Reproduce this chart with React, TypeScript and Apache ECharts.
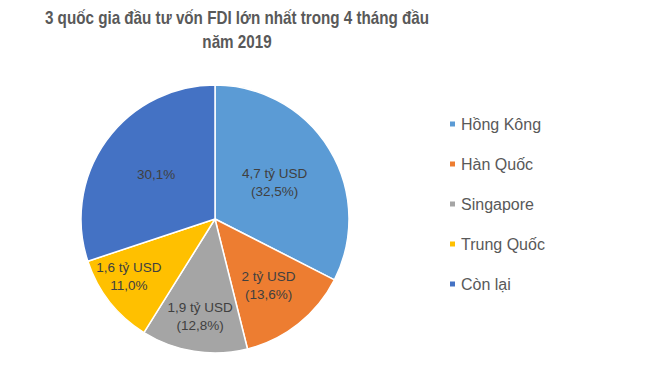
import React, { useEffect, useRef } from "react";
import * as echarts from "echarts";

const titleLines = ["3 quốc gia đầu tư vốn FDI lớn nhất trong 4 tháng đầu", "năm 2019"];
const categories = ["Hồng Kông", "Hàn Quốc", "Singapore", "Trung Quốc", "Còn lại"];
const shares = [32.5, 13.6, 12.8, 11.0, 30.1];
const sliceLabels = [
  "4,7 tỷ USD\n(32,5%)",
  "2 tỷ USD\n(13,6%)",
  "1,9 tỷ USD\n(12,8%)",
  "1,6 tỷ USD\n11,0%",
  "30,1%",
];
const colors = ["#5B9BD5", "#ED7D31", "#A5A5A5", "#FFC000", "#4472C4"];
const labelShift = [
  [0, 0],
  [10, 12],
  [-4, 28],
  [-31, 14],
  [-2, -4],
];

export default function App() {
  const ref = useRef<HTMLDivElement>(null);
  useEffect(() => {
    document.body.style.margin = "0";
    const chart = echarts.init(ref.current!, null, { renderer: "svg" });
    chart.setOption({
      animation: false,
      backgroundColor: "#ffffff",
      textStyle: { fontFamily: "Liberation Sans, Arial, sans-serif" },
      graphic: [
        {
          type: "text",
          x: 237,
          y: 6,
          scaleX: 0.845,
          style: {
            text: titleLines.join("\n"),
            align: "center",
            fill: "#595959",
            font: "bold 18px 'Liberation Sans', Arial, sans-serif",
            lineHeight: 24,
          },
        },
      ],
      legend: {
        orient: "vertical",
        left: 443,
        top: 109,
        itemWidth: 7,
        itemHeight: 7,
        itemGap: 20,
        icon: "rect",
        data: categories,
        textStyle: { color: "#595959", fontSize: 16, lineHeight: 20, fontFamily: "Liberation Sans, Arial, sans-serif" },
      },
      series: [
        {
          type: "pie",
          center: [215, 219],
          radius: [0, 134],
          startAngle: 90,
          clockwise: true,
          itemStyle: { borderColor: "#ffffff", borderWidth: 1.5 },
          label: {
            show: true,
            position: "inside",
            color: "#404040",
            fontSize: 13.5,
            lineHeight: 18,
            fontFamily: "Liberation Sans, Arial, sans-serif",
            formatter: (p: any) => sliceLabels[p.dataIndex],
          },
          labelLayout: (p: any) => ({ dx: labelShift[p.dataIndex][0], dy: labelShift[p.dataIndex][1] }),
          labelLine: { show: false },
          emphasis: { disabled: true },
          data: categories.map((c, i) => ({ name: c, value: shares[i], itemStyle: { color: colors[i] } })),
        },
      ],
    });
    return () => chart.dispose();
  }, []);
  return <div ref={ref} style={{ width: 650, height: 381 }} />;
}
